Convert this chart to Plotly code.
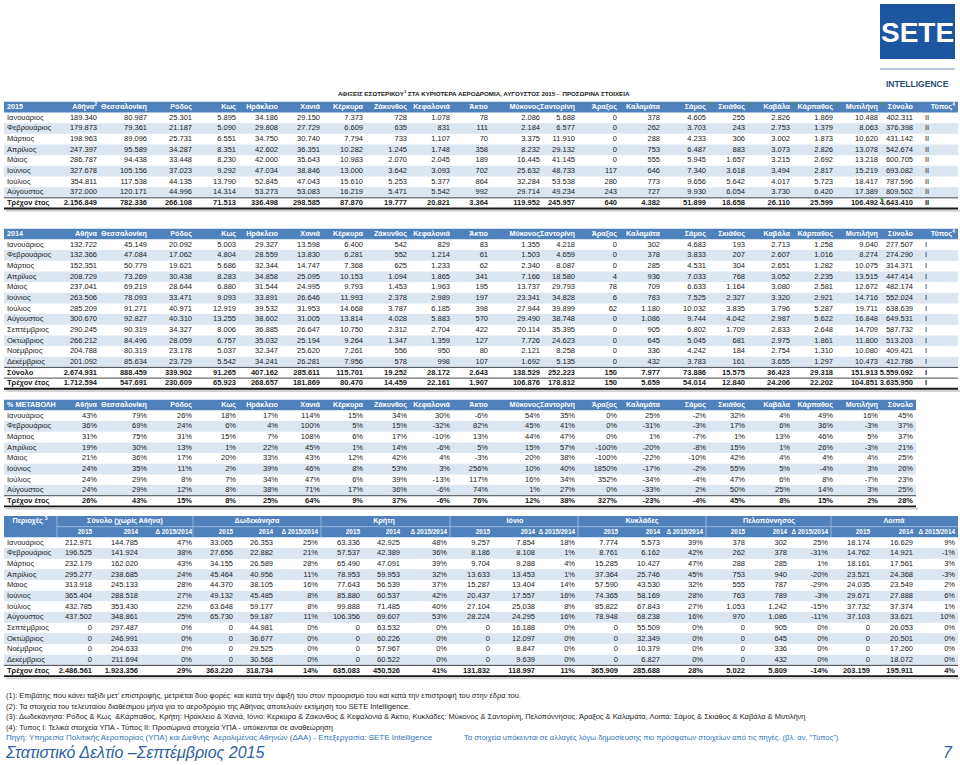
import plotly.graph_objects as go

# ----------------------------------
# DATA
# ----------------------------------

MONTHS = [
    "Ιανουάριος", "Φεβρουάριος", "Μάρτιος", "Απρίλιος", "Μάιος", "Ιούνιος",
    "Ιούλιος", "Αύγουστος", "Σεπτέμβριος", "Οκτώβριος", "Νοέμβριος", "Δεκέμβριος",
]

AIRPORTS = [
    "Αθήνα", "Θεσσαλονίκη", "Ρόδος", "Κως", "Ηράκλειο", "Χανιά", "Κέρκυρα",
    "Ζάκυνθος", "Κεφαλονιά", "Άκτιο", "Μύκονος", "Σαντορίνη", "Άραξος",
    "Καλαμάτα", "Σάμος", "Σκιάθος", "Καβάλα", "Κάρπαθος", "Μυτιλήνη", "Σύνολο",
]

ARRIVALS_2015 = [
    [189340, 80987, 25301, 5895, 34186, 29150, 7373, 728, 1078, 78, 2086, 5688, 0, 378, 4605, 255, 2826, 1869, 10488, 402311],
    [179873, 79361, 21187, 5090, 29808, 27729, 6609, 635, 831, 111, 2184, 6577, 0, 262, 3703, 243, 2753, 1379, 8063, 376398],
    [198963, 89096, 25731, 6551, 34750, 30740, 7794, 733, 1107, 70, 3375, 11910, 0, 288, 4233, 306, 3002, 1873, 10620, 431142],
    [247397, 95589, 34287, 8351, 42602, 36351, 10282, 1245, 1748, 358, 8232, 29132, 0, 753, 6487, 883, 3073, 2826, 13078, 542674],
    [286787, 94438, 33448, 8230, 42000, 35643, 10983, 2070, 2045, 189, 16445, 41145, 0, 555, 5945, 1657, 3215, 2692, 13218, 600705],
    [327678, 105156, 37023, 9292, 47034, 38846, 13000, 3642, 3093, 702, 25632, 48733, 117, 646, 7340, 3618, 3494, 2817, 15219, 693082],
    [354811, 117538, 44135, 13790, 52845, 47043, 15610, 5253, 5377, 864, 32284, 53538, 280, 773, 9656, 5642, 4017, 5723, 18417, 787596],
    [372000, 120171, 44996, 14314, 53273, 53083, 16219, 5471, 5542, 992, 29714, 49234, 243, 727, 9930, 6054, 3730, 6420, 17389, 809502],
]
YTD_2015 = [2156849, 782336, 266108, 71513, 336498, 298585, 87870, 19777, 20821, 3364, 119952, 245957, 640, 4382, 51899, 18658, 26110, 25599, 106492, 4643410]
TYPE_2015 = "II"

ARRIVALS_2014 = [
    [132722, 45149, 20092, 5003, 29327, 13598, 6400, 542, 829, 83, 1355, 4218, 0, 302, 4683, 193, 2713, 1258, 9040, 277507],
    [132366, 47084, 17062, 4804, 28559, 13830, 6281, 552, 1214, 61, 1503, 4659, 0, 378, 3833, 207, 2607, 1016, 8274, 274290],
    [152351, 50779, 19621, 5686, 32344, 14747, 7368, 625, 1233, 62, 2340, 8087, 0, 285, 4531, 304, 2651, 1282, 10075, 314371],
    [208729, 73269, 30438, 8283, 34858, 25095, 10153, 1094, 1865, 341, 7166, 18580, 4, 936, 7033, 768, 3052, 2235, 13515, 447414],
    [237041, 69219, 28644, 6880, 31544, 24995, 9793, 1453, 1963, 195, 13737, 29793, 78, 709, 6633, 1164, 3080, 2581, 12672, 482174],
    [263506, 78093, 33471, 9093, 33891, 26646, 11993, 2378, 2989, 197, 23341, 34828, 6, 783, 7525, 2327, 3320, 2921, 14716, 552024],
    [285209, 91271, 40971, 12919, 39532, 31953, 14668, 3787, 6185, 398, 27944, 39899, 62, 1180, 10032, 3835, 3796, 5287, 19711, 638639],
    [300670, 92827, 40310, 13255, 38602, 31005, 13814, 4028, 5883, 570, 29490, 38748, 0, 1086, 9744, 4042, 2987, 5622, 16848, 649531],
    [290245, 90319, 34327, 8006, 36885, 26647, 10750, 2312, 2704, 422, 20114, 35395, 0, 905, 6802, 1709, 2833, 2648, 14709, 587732],
    [266212, 84496, 28059, 6757, 35032, 25194, 9264, 1347, 1359, 127, 7726, 24623, 0, 645, 5045, 681, 2975, 1861, 11800, 513203],
    [204788, 80319, 23178, 5037, 32347, 25620, 7261, 556, 950, 80, 2121, 8258, 0, 336, 4242, 184, 2754, 1310, 10080, 409421],
    [201092, 85634, 23729, 5542, 34241, 26281, 7956, 578, 998, 107, 1692, 5135, 0, 432, 3783, 161, 3655, 1297, 10473, 412786],
]
TOTAL_2014 = [2674931, 888459, 339902, 91265, 407162, 285611, 115701, 19252, 28172, 2643, 138529, 252223, 150, 7977, 73886, 15575, 36423, 29318, 151913, 5559092]
YTD_2014 = [1712594, 547691, 230609, 65923, 268657, 181869, 80470, 14459, 22161, 1907, 106876, 178812, 150, 5659, 54014, 12840, 24206, 22202, 104851, 3635950]
TYPE_2014 = "I"

CHANGE_PCT = [
    [43, 79, 26, 18, 17, 114, 15, 34, 30, -6, 54, 35, 0, 25, -2, 32, 4, 49, 16, 45],
    [36, 69, 24, 6, 4, 100, 5, 15, -32, 82, 45, 41, 0, -31, -3, 17, 6, 36, -3, 37],
    [31, 75, 31, 15, 7, 108, 6, 17, -10, 13, 44, 47, 0, 1, -7, 1, 13, 46, 5, 37],
    [19, 30, 13, 1, 22, 45, 1, 14, -6, 5, 15, 57, -100, -20, -8, 15, 1, 26, -3, 21],
    [21, 36, 17, 20, 33, 43, 12, 42, 4, -3, 20, 38, -100, -22, -10, 42, 4, 4, 4, 25],
    [24, 35, 11, 2, 39, 46, 8, 53, 3, 256, 10, 40, 1850, -17, -2, 55, 5, -4, 3, 26],
    [24, 29, 8, 7, 34, 47, 6, 39, -13, 117, 16, 34, 352, -34, -4, 47, 6, 8, -7, 23],
    [24, 29, 12, 8, 38, 71, 17, 36, -6, 74, 1, 27, 0, -33, 2, 50, 25, 14, 3, 25],
]
CHANGE_PCT_YTD = [26, 43, 15, 8, 25, 64, 9, 37, -6, 76, 12, 38, 327, -23, -4, 45, 8, 15, 2, 28]

REGIONS = [
    "Σύνολο (χωρίς Αθήνα)", "Δωδεκάνησα", "Κρήτη", "Ιόνιο",
    "Κυκλάδες", "Πελοπόννησος", "Λοιπά",
]
# 12 months + current year, one list per region
REGION_2015 = [
    [212971, 196525, 232179, 295277, 313918, 365404, 432785, 437502, 0, 0, 0, 0, 2486561],
    [33065, 27656, 34155, 45464, 44370, 49132, 63648, 65730, 0, 0, 0, 0, 363220],
    [63336, 57537, 65490, 78953, 77643, 85880, 99888, 106356, 0, 0, 0, 0, 635083],
    [9257, 8186, 9704, 13633, 15287, 20437, 27104, 28224, 0, 0, 0, 0, 131832],
    [7774, 8761, 15285, 37364, 57590, 74365, 85822, 78948, 0, 0, 0, 0, 365909],
    [378, 262, 288, 753, 555, 763, 1053, 970, 0, 0, 0, 0, 5022],
    [18174, 14762, 18161, 23521, 24035, 29671, 37732, 37103, 0, 0, 0, 0, 203159],
]
REGION_2014 = [
    [144785, 141924, 162020, 238685, 245133, 288518, 353430, 348861, 297487, 246991, 204633, 211694, 1923356],
    [26353, 22882, 26589, 40956, 38105, 45485, 59177, 59187, 44981, 36677, 29525, 30568, 318734],
    [42925, 42389, 47091, 59953, 56539, 60537, 71485, 69607, 63532, 60226, 57967, 60522, 450526],
    [7854, 8108, 9288, 13453, 13404, 17557, 25038, 24295, 16188, 12097, 8847, 9639, 118997],
    [5573, 6162, 10427, 25746, 43530, 58169, 67843, 68238, 55509, 32349, 10379, 6827, 285688],
    [302, 378, 285, 940, 787, 789, 1242, 1086, 905, 645, 336, 432, 5809],
    [16629, 14921, 17561, 24368, 23549, 27888, 37374, 33621, 26053, 20501, 17260, 18072, 195911],
]
REGION_CHANGE = [
    [47, 38, 43, 24, 28, 27, 22, 25, 0, 0, 0, 0, 29],
    [25, 21, 28, 11, 16, 8, 8, 11, 0, 0, 0, 0, 14],
    [48, 36, 39, 32, 37, 42, 40, 53, 0, 0, 0, 0, 41],
    [18, 1, 4, 1, 14, 16, 8, 16, 0, 0, 0, 0, 11],
    [39, 42, 47, 45, 32, 28, 27, 16, 0, 0, 0, 0, 28],
    [25, -31, 1, -20, -29, -3, -15, -11, 0, 0, 0, 0, -14],
    [9, -1, 3, -3, 2, 6, 1, 10, 0, 0, 0, 0, 4],
]

TITLE = "ΑΦΙΞΕΙΣ ΕΣΩΤΕΡΙΚΟΥ<sup>1</sup> ΣΤΑ ΚΥΡΙΟΤΕΡΑ ΑΕΡΟΔΡΟΜΙΑ, ΑΥΓΟΥΣΤΟΣ 2015 -  ΠΡΟΣΩΡΙΝΑ ΣΤΟΙΧΕΙΑ"

NOTES = [
    "(1): Επιβάτης που κάνει ταξίδι μετ' επιστροφής, μετριέται δύο φορές: και κατά την άφιξή του στον προορισμό του και κατά την επιστροφή του στην έδρα του.",
    "(2): Τα στοιχεία του τελευταίου διαθέσιμου μήνα για το αεροδρόμιο της Αθήνας αποτελούν εκτίμηση του SETE Intelligence.",
    "(3): Δωδεκάνησα: Ρόδος & Κως  &Κάρπαθος, Κρήτη: Ηράκλειο & Χανιά, Ιόνιο: Κερκυρα & Ζάκυνθος & Κεφαλονιά & Άκτιο, Κυκλάδες: Μύκονος & Σαντορίνη, Πελοπόννησος: Άραξος & Καλαμάτα, Λοιπά: Σάμος & Σκιάθος & Καβάλα & Μυτιλήνη",
    "(4): Τύπος Ι: Τελικά στοιχεία ΥΠΑ - Τύπος ΙΙ: Προσωρινά στοιχεία ΥΠΑ - υπόκεινται σε αναθεώρηση",
]
SOURCE = "Πηγή: Υπηρεσία Πολιτικής Αεροπορίας (ΥΠΑ) και Διεθνής  Αερολιμένας Αθηνών (ΔΑΑ) - Επεξεργασία: SETE Intelligence"
SOURCE_NOTE = "Τα στοιχεία υπόκεινται σε αλλαγές λόγω δημοσίευσης πιο πρόσφατων στοιχείων από τις πηγές. (βλ. αν. \"Τύπος\")"
FOOTER = "Στατιστικό Δελτίο –Σεπτέμβριος 2015"
PAGE = "7"

# columns of the 2015 header carrying a small green note marker
FLAGGED = ["Σάμος", "Σκιάθος", "Καβάλα", "Κάρπαθος", "Μυτιλήνη"]

# ----------------------------------
# STYLE / GEOMETRY (pixels)
# ----------------------------------

FONT = "Liberation Sans, Arial, sans-serif"
FS = 7.5
FS_HEAD = 7.2
RH = 10.67
LEFT = 4
LABEL_X = 7
COL_X = [97, 147, 192, 236, 278, 320, 363, 407, 450, 488, 540, 575,
         617, 660, 706, 745, 790, 833, 878, 913]
TYPE_X = 925
TYPE_HEAD_X = 955

REG_X = [[92, 138, 192], [233, 273, 318], [360, 400, 447], [490, 535, 575],
         [618, 660, 703], [745, 787, 828], [870, 913, 955]]
REG_CENTER = [125, 257, 384, 515, 642, 769, 894]
REG_SEP = [57, 193, 321, 450, 578, 706, 831]

HEAD_BLUE = "#4f81bd"
STRIPE = "#dce6f1"
INK = "#1a1a1a"
SHADOW = "#d4d4d4"

fig = go.Figure()
shapes = []
annotations = []


def num(v):
    return f"{v:,}".replace(",", ".")


def pct(v):
    return f"{v}%"


def bold(s):
    return f"<b>{s}</b>"


def band(y0, y1, x0, x1, color):
    shapes.append(dict(type="rect", xref="x", yref="y", x0=x0, x1=x1,
                       y0=y0, y1=y1, fillcolor=color, line=dict(width=0),
                       layer="below"))


def hline(y, x0, x1, width, color):
    shapes.append(dict(type="line", xref="x", yref="y", x0=x0, x1=x1,
                       y0=y, y1=y, line=dict(width=width, color=color)))


def vline(x, y0, y1, width, color):
    shapes.append(dict(type="line", xref="x", yref="y", x0=x, x1=x,
                       y0=y0, y1=y1, line=dict(width=width, color=color)))


def text_trace(xs, ys, texts, positions, color=INK, size=FS):
    fig.add_trace(go.Scatter(
        x=xs, y=ys, text=texts, mode="text", textposition=positions,
        textfont=dict(family=FONT, size=size, color=color),
        hoverinfo="skip", showlegend=False, cliponaxis=False,
    ))


def note(x, y, text, size=7.5, color=INK, anchor="left", family=FONT):
    annotations.append(dict(x=x, y=y, xref="x", yref="y", text=text,
                            showarrow=False, xanchor=anchor, yanchor="middle",
                            font=dict(family=family, size=size, color=color)))


# ----------------------------------
# AIRPORT TABLES
# ----------------------------------

def airport_table(top, right, corner, heads, labels, rows, totals, fmt, type_code=None):

    n = len(labels)

    band(top, top + RH, LEFT, right, HEAD_BLUE)
    for i in range(n):
        if i % 2 == 1 and i not in totals:
            band(top + RH * (i + 1), top + RH * (i + 2), LEFT, right, STRIPE)

    hx = [LABEL_X] + COL_X[:len(heads)]
    ht = [bold(corner)] + [bold(h) for h in heads]
    hp = ["middle right"] + ["middle left"] * len(heads)
    if type_code:
        hx.append(TYPE_HEAD_X)
        ht.append(bold("Τύπος<sup>4</sup>"))
        hp.append("middle left")
    text_trace(hx, [top + RH / 2] * len(hx), ht, hp, color="white", size=FS_HEAD)

    xs, ys, ts, ps = [], [], [], []
    for i, (label, row) in enumerate(zip(labels, rows)):
        y = top + RH * (i + 1.5)
        wrap = bold if i in totals else str
        xs += [LABEL_X] + COL_X[:len(row)]
        ts += [wrap(label)] + [wrap(fmt(v)) for v in row]
        ps += ["middle right"] + ["middle left"] * len(row)
        if type_code:
            xs.append(TYPE_X)
            ts.append(wrap(type_code))
            ps.append("middle right")
        ys += [y] * (len(xs) - len(ys))
    text_trace(xs, ys, ts, ps)

    for t in totals:
        hline(top + RH * (t + 1), LEFT, right, 0.8, INK)
    bottom = top + RH * (n + 1)
    hline(bottom + 2.2, LEFT + 2, right + 2, 2.2, SHADOW)
    hline(bottom, LEFT, right, 1.8, INK)


T1 = 101.8
airport_table(
    T1, 958, "2015",
    ["Αθήνα<sup>2</sup>"] + AIRPORTS[1:],
    MONTHS[:8] + ["Τρέχον έτος"],
    ARRIVALS_2015 + [YTD_2015],
    [8], num, TYPE_2015,
)

airport_table(
    228.7, 958, "2014", AIRPORTS,
    MONTHS + ["Σύνολο", "Τρέχον έτος"],
    ARRIVALS_2014 + [TOTAL_2014, YTD_2014],
    [12, 13], num, TYPE_2014,
)

airport_table(
    399.7, 916, "% ΜΕΤΑΒΟΛΗ", AIRPORTS,
    MONTHS[:8] + ["Τρέχον έτος"],
    CHANGE_PCT + [CHANGE_PCT_YTD],
    [8], pct,
)

# green note markers (Excel comments) on the 2015 table
flag_x = [COL_X[AIRPORTS.index(a)] + 4 for a in FLAGGED] + [COL_X[18] + 4]
flag_y = [T1 + 1.8] * len(FLAGGED) + [T1 + RH * 9 + 1.8]
fig.add_trace(go.Scatter(
    x=flag_x, y=flag_y, mode="markers",
    marker=dict(symbol="triangle-ne", size=4, color="#3a9a3a", line=dict(width=0)),
    hoverinfo="skip", showlegend=False, cliponaxis=False,
))

# ----------------------------------
# REGIONS TABLE
# ----------------------------------

T4 = 516.0
n4 = len(MONTHS) + 1
band(T4, T4 + 2 * RH, LEFT, 958, HEAD_BLUE)
hline(T4 + RH, REG_SEP[0], 958, 0.8, "#a9c0de")
for sx in REG_SEP:
    vline(sx, T4, T4 + 2 * RH, 0.8, "#a9c0de")
for i in range(n4):
    if i % 2 == 1 and i != n4 - 1:
        band(T4 + RH * (i + 2), T4 + RH * (i + 3), LEFT, 958, STRIPE)

gx = [30] + REG_CENTER
gt = [bold("Περιοχές <sup>3</sup>")] + [bold(r) for r in REGIONS]
text_trace(gx, [T4 + RH / 2] * len(gx), gt, ["middle center"] * len(gx),
           color="white", size=FS_HEAD)

sx, st = [], []
for xs3 in REG_X:
    sx += xs3
    st += [bold("2015"), bold("2014"), bold("Δ 2015/2014")]
text_trace(sx, [T4 + RH * 1.5] * len(sx), st, ["middle left"] * len(sx),
           color="white", size=6.4)

labels4 = MONTHS + ["Τρέχον έτος"]
xs, ys, ts, ps = [], [], [], []
for i, label in enumerate(labels4):
    y = T4 + RH * (i + 2.5)
    wrap = bold if i == n4 - 1 else str
    xs.append(LABEL_X)
    ts.append(wrap(label))
    ps.append("middle right")
    for r, xs3 in enumerate(REG_X):
        xs += xs3
        ts += [wrap(num(REGION_2015[r][i])), wrap(num(REGION_2014[r][i])),
               wrap(pct(REGION_CHANGE[r][i]))]
        ps += ["middle left"] * 3
    ys += [y] * (len(xs) - len(ys))
text_trace(xs, ys, ts, ps)

hline(T4 + RH * (n4 + 1), LEFT, 958, 0.8, INK)
b4 = T4 + RH * (n4 + 2)
hline(b4 + 2.2, LEFT + 2, 960, 2.2, SHADOW)
hline(b4, LEFT, 958, 1.8, INK)

# ----------------------------------
# TEXTS, LOGO
# ----------------------------------

note(484, 93, bold(TITLE), size=6.2, anchor="center")

for k, line in enumerate(NOTES):
    note(4, 695.5 + k * 10.6, line)
note(4, 737.9, SOURCE, size=8, color="#2e74b5")
note(462, 737.9, SOURCE_NOTE, color="#2e74b5")
note(3, 752, f"<i>{FOOTER}</i>", size=16, color="#2f5f9e")
note(955, 752, f"<i>{PAGE}</i>", size=16, color="#2f5f9e", anchor="right")

shapes.append(dict(type="rect", xref="x", yref="y", x0=880, x1=955, y0=4, y1=59,
                   fillcolor="#1c56a0", line=dict(width=0)))
hline(69, 880, 955, 1.5, "#9fb4cc")
note(917.5, 32, bold("SETE"), size=28, color="white", anchor="center")
note(917.5, 84, bold("INTELLIGENCE"), size=8.5, color="#2b4c72", anchor="center")

fig.update_layout(
    width=960,
    height=765,
    margin=dict(l=0, r=0, t=0, b=0),
    paper_bgcolor="white",
    plot_bgcolor="white",
    xaxis=dict(range=[0, 960], visible=False, fixedrange=True),
    yaxis=dict(range=[765, 0], visible=False, fixedrange=True),
    shapes=shapes,
    annotations=annotations,
)

fig.write_html(
    "out.html",
    config={"displayModeBar": False},
    post_script="document.body.style.margin = '0';",
)
